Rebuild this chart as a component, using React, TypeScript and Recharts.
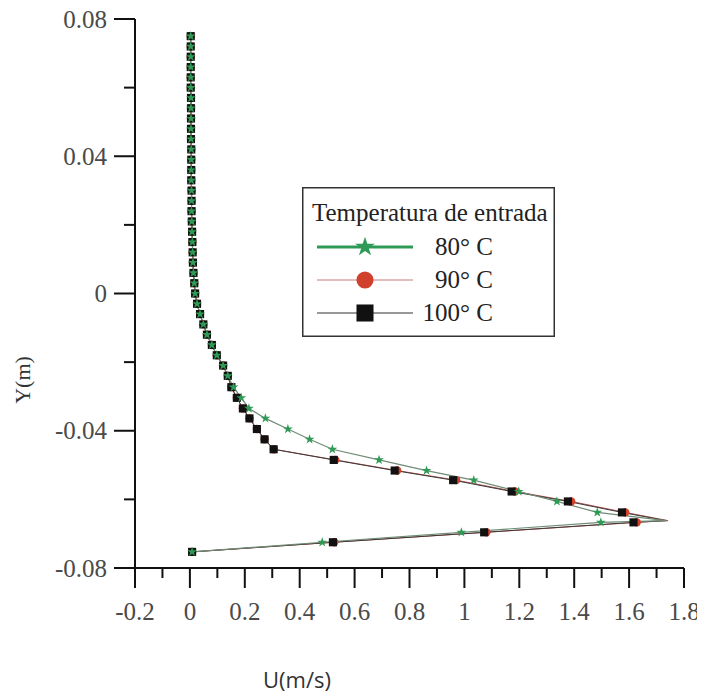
import React from 'react';
import { ComposedChart, Line, XAxis, YAxis, Legend, Symbols } from 'recharts';

// tick values
const X_TICKS = [-0.2, -0.1, 0, 0.1, 0.2, 0.3, 0.4, 0.5, 0.6, 0.7, 0.8, 0.9, 1, 1.1, 1.2, 1.3, 1.4, 1.5, 1.6, 1.7, 1.8];
const Y_TICKS = [-0.08, -0.06, -0.04, -0.02, 0, 0.02, 0.04, 0.06, 0.08];

// upper part of the profile, the three curves share it
const Y_UPPER = [
  0.075, 0.072, 0.069, 0.066, 0.063, 0.06, 0.057, 0.054, 0.051, 0.048, 0.045, 0.042,
  0.039, 0.036, 0.033, 0.03, 0.027, 0.024, 0.021, 0.018, 0.015, 0.012, 0.009, 0.006,
  0.003, 0, -0.003, -0.006, -0.009, -0.012, -0.015, -0.018, -0.021, -0.024,
];
const U_UPPER = [
  0.003, 0.003, 0.003, 0.003, 0.003, 0.003, 0.004, 0.004, 0.004, 0.004, 0.004, 0.005,
  0.005, 0.005, 0.005, 0.006, 0.006, 0.006, 0.007, 0.008, 0.009, 0.01, 0.011, 0.013,
  0.016, 0.019, 0.026, 0.037, 0.049, 0.062, 0.08, 0.098, 0.121, 0.138,
];

// lower part, where the curves split
const Y_LOWER = [
  -0.0273, -0.0304, -0.0335, -0.0364, -0.0395, -0.0425, -0.0454, -0.0485, -0.0516,
  -0.0544, -0.0577, -0.0606, -0.0638, -0.0662, -0.0667, -0.0696, -0.0725, -0.0753,
];
const U_LOWER_80 = [
  0.159, 0.187, 0.215, 0.275, 0.357, 0.436, 0.519, 0.689, 0.862,
  1.034, 1.198, 1.337, 1.484, 1.735, 1.497, 0.989, 0.482, 0.008,
];
const U_LOWER_90 = [
  0.151, 0.171, 0.193, 0.217, 0.244, 0.272, 0.306, 0.53, 0.755,
  0.97, 1.184, 1.389, 1.586, 1.742, 1.628, 1.08, 0.526, 0.008,
];
const U_LOWER_100 = [
  0.151, 0.171, 0.193, 0.217, 0.244, 0.272, 0.305, 0.524, 0.746,
  0.959, 1.172, 1.377, 1.574, 1.735, 1.616, 1.072, 0.521, 0.008,
];

const LEGEND_TITLE = 'Temperatura de entrada';
const SERIES_NAMES = ['80° C', '90° C', '100° C'];

const SERIF = '"Liberation Serif", "DejaVu Serif", serif';
const SANS = '"Open Sans", "Liberation Sans", sans-serif';
const GREEN = '#2f9a55';
const RED = '#d0402c';
const BLACK = '#111111';

const buildSeries = (lower: number[]) => [
  ...Y_UPPER.map((y, i) => ({ u: U_UPPER[i], y })),
  ...Y_LOWER.map((y, i) => ({ u: lower[i], y })),
];

const data80 = buildSeries(U_LOWER_80);
const data90 = buildSeries(U_LOWER_90);
const data100 = buildSeries(U_LOWER_100);

const tipIndex = (d: { u: number }[]) => d.reduce((best, p, i) => (p.u > d[best].u ? i : best), 0);

const makeDot = (type: 'star' | 'circle' | 'square', size: number, fill: string, tip: number) =>
  (props: any) => {
    const { cx, cy, index } = props;
    if (index === tip || cx == null || cy == null) return <g key={`d-${type}-${index}`} />;
    return <Symbols key={`d-${type}-${index}`} cx={cx} cy={cy} type={type} size={size} fill={fill} stroke="none" />;
  };

const tickText = { fontFamily: SERIF, fontSize: 25, fill: '#4a4a4a' };

const XTick = (props: any) => {
  const { x, y, payload } = props;
  const v = payload.value as number;
  const major = Math.abs(Math.round(v * 10)) % 2 === 0;
  return (
    <g>
      <line x1={x} x2={x} y1={y} y2={y + (major ? 20 : 10)} stroke={BLACK} strokeWidth={2} />
      {major && (
        <text x={x} y={y + 52} textAnchor="middle" style={tickText}>
          {String(v)}
        </text>
      )}
    </g>
  );
};

const YTick = (props: any) => {
  const { x, y, payload } = props;
  const v = payload.value as number;
  const major = Math.abs(Math.round(v * 100)) % 4 === 0;
  return (
    <g>
      <line x1={x - (major ? 21 : 11)} x2={x} y1={y} y2={y} stroke={BLACK} strokeWidth={2} />
      {major && (
        <text x={x - 28} y={y + 8.5} textAnchor="end" style={tickText}>
          {String(v)}
        </text>
      )}
    </g>
  );
};

const YTitle = () => (
  <text
    x={22}
    y={380}
    transform="rotate(-90 22 380)"
    textAnchor="middle"
    style={{ fontFamily: SERIF, fontSize: 22, fill: '#333' }}
  >
    Y(m)
  </text>
);

const XTitle = () => (
  <text x={289} y={688} textAnchor="middle" style={{ fontFamily: SANS, fontSize: 22, fill: '#333' }}>
    U(m/s)
  </text>
);

const LegendBox = () => {
  const rows = [
    { color: GREEN, line: GREEN, lineW: 3, type: 'star' as const, size: 120 },
    { color: RED, line: '#c97a78', lineW: 1, type: 'circle' as const, size: 230 },
    { color: BLACK, line: '#333', lineW: 1, type: 'square' as const, size: 290 },
  ];
  const txt = { fontFamily: SERIF, fontSize: 25, fill: '#222' };
  return (
    <svg width={253} height={150} style={{ display: 'block' }}>
      <rect x={0.75} y={0.75} width={251.5} height={148.5} fill="#fff" stroke="#333" strokeWidth={1.5} />
      <text x={10} y={34} style={txt}>
        {LEGEND_TITLE}
      </text>
      {rows.map((r, i) => {
        const cy = 60 + i * 33;
        return (
          <g key={SERIES_NAMES[i]}>
            <line x1={15} x2={111} y1={cy} y2={cy} stroke={r.line} strokeWidth={r.lineW} />
            <Symbols cx={63} cy={cy} type={r.type} size={r.size} fill={r.color} stroke="none" />
            <text x={191} y={cy + 8} textAnchor="end" style={txt}>
              {SERIES_NAMES[i]}
            </text>
          </g>
        );
      })}
    </svg>
  );
};

export default function App() {
  return (
    <div style={{ width: 696, height: 699, marginTop: -8, marginBottom: -8 }}>
      <ComposedChart width={696} height={699} margin={{ top: 19, right: 20, bottom: 11, left: 7 }}>
        <XAxis
          dataKey="u"
          type="number"
          domain={[-0.2, 1.8]}
          ticks={X_TICKS}
          interval={0}
          height={120}
          tickSize={0}
          tickMargin={0}
          tickLine={false}
          tick={<XTick />}
          axisLine={{ stroke: BLACK, strokeWidth: 2 }}
          label={<XTitle />}
          allowDataOverflow
        />
        <XAxis
          xAxisId="top"
          orientation="top"
          type="number"
          domain={[-0.2, 1.8]}
          height={0}
          tick={false}
          tickLine={false}
          axisLine={{ stroke: BLACK, strokeWidth: 2 }}
        />
        <YAxis
          dataKey="y"
          type="number"
          domain={[-0.08, 0.08]}
          ticks={Y_TICKS}
          interval={0}
          width={120}
          tickSize={0}
          tickMargin={0}
          tickLine={false}
          tick={<YTick />}
          axisLine={{ stroke: BLACK, strokeWidth: 2 }}
          label={<YTitle />}
          allowDataOverflow
        />
        <YAxis
          yAxisId="right"
          orientation="right"
          type="number"
          domain={[-0.08, 0.08]}
          width={0}
          tick={false}
          tickLine={false}
          axisLine={{ stroke: BLACK, strokeWidth: 2.5 }}
        />
        <Legend
          verticalAlign="middle"
          align="center"
          layout="horizontal"
          wrapperStyle={{ left: 294, top: 187, width: 253, height: 150 }}
          content={() => <LegendBox />}
        />
        <Line
          data={data90}
          dataKey="y"
          name={SERIES_NAMES[1]}
          type="linear"
          stroke="#b8504c"
          strokeWidth={1}
          dot={makeDot('circle', 55, RED, tipIndex(data90))}
          activeDot={false}
          isAnimationActive={false}
        />
        <Line
          data={data100}
          dataKey="y"
          name={SERIES_NAMES[2]}
          type="linear"
          stroke="#3a3a3a"
          strokeWidth={1}
          dot={makeDot('square', 66, BLACK, tipIndex(data100))}
          activeDot={false}
          isAnimationActive={false}
        />
        <Line
          data={data80}
          dataKey="y"
          name={SERIES_NAMES[0]}
          type="linear"
          stroke="#6f8c76"
          strokeWidth={1.2}
          dot={makeDot('star', 30, GREEN, tipIndex(data80))}
          activeDot={false}
          isAnimationActive={false}
        />
      </ComposedChart>
    </div>
  );
}
